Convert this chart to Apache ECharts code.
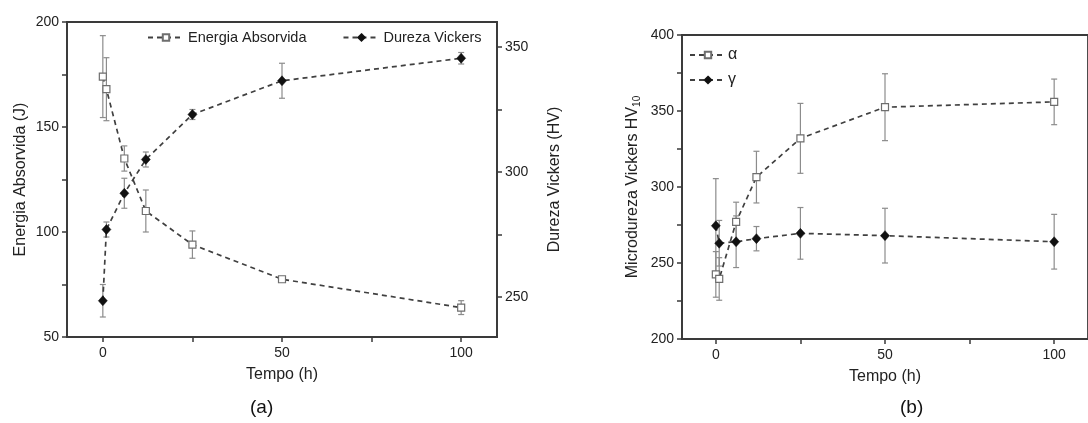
<!DOCTYPE html>
<html>
<head>
<meta charset="utf-8">
<script src="https://cdn.jsdelivr.net/npm/echarts@6/dist/echarts.min.js"></script>
<style>
    html, body { margin: 0; padding: 0; background: #fff; }
    #chart { width: 1088px; height: 423px; }
</style>
</head>
<body>
<div id="chart"></div>
<script>
// tempo de tratamento (h)
const hours = [0, 1, 6, 12, 25, 50, 100]

// painel (a)
const energia = [174, 168, 135, 110, 94, 77.5, 64]
const energiaErr = [19.5, 15, 6, 10, 6.5, 1, 3.3]
const dureza = [248.5, 277, 291.5, 305, 323, 336.5, 345.5]
const durezaErr = [6.5, 3, 6, 3, 2, 7, 2.3]

// painel (b)
const alfa = [242.5, 239.5, 277, 306.5, 332, 352.5, 356]
const alfaErr = [15, 14, 13, 17, 23, 22, 15]
const gama = [274.5, 263, 264, 266, 269.5, 268, 264]
const gamaErr = [31, 15, 17, 8, 17, 18, 18]

// ticks
const xTicks = [0, 25, 50, 75, 100]
const xLabels = [0, 50, 100]
const durezaTicks = [250, 275, 300, 325, 350]
const durezaLabels = [250, 300, 350]

const FONT = "'Liberation Sans', Arial, sans-serif"
const AXIS_COLOR = '#3a3a3a'
const TEXT_COLOR = '#222'
const LINE_COLOR = '#404040'
const ERR_COLOR = '#8c8c8c'

const chart = echarts.init(document.getElementById('chart'))

const pairs = (vals) => hours.map((h, i) => [h, vals[i]])
const errData = (vals, errs) => hours.map((h, i) => [h, vals[i] - errs[i], vals[i] + errs[i]])

function renderErr(params, api) {
    const x = api.value(0)
    const top = api.coord([x, api.value(2)])
    const bot = api.coord([x, api.value(1)])
    const w = 3
    const style = { stroke: ERR_COLOR, lineWidth: 1.2 }
    return {
        type: 'group',
        children: [
            { type: 'line', shape: { x1: top[0], y1: top[1], x2: bot[0], y2: bot[1] }, style },
            { type: 'line', shape: { x1: top[0] - w, y1: top[1], x2: top[0] + w, y2: top[1] }, style },
            { type: 'line', shape: { x1: bot[0] - w, y1: bot[1], x2: bot[0] + w, y2: bot[1] }, style },
        ],
    }
}

function errSeries(vals, errs, xi, yi) {
    return {
        type: 'custom',
        xAxisIndex: xi,
        yAxisIndex: yi,
        renderItem: renderErr,
        encode: { x: 0, y: [1, 2] },
        data: errData(vals, errs),
        z: 1,
        silent: true,
    }
}

const hollow = {
    symbol: 'rect',
    symbolSize: 7,
    itemStyle: { color: '#fff', borderColor: '#6e6e6e', borderWidth: 1.2 },
}
const filled = {
    symbol: 'diamond',
    symbolSize: [9, 10],
    itemStyle: { color: '#111', borderColor: '#111', borderWidth: 0.5 },
}
const dashed = { color: LINE_COLOR, width: 1.7, type: [5, 4] }

function xAxisCfg(grid) {
    return {
        type: 'value',
        gridIndex: grid,
        min: -10,
        max: 110,
        name: 'Tempo (h)',
        nameLocation: 'middle',
        nameGap: 30,
        nameTextStyle: { fontFamily: FONT, fontSize: 16, color: TEXT_COLOR },
        axisLine: { onZero: false, lineStyle: { color: AXIS_COLOR, width: 1.8 } },
        axisTick: { customValues: xTicks, length: 5, lineStyle: { color: AXIS_COLOR, width: 1.5 } },
        axisLabel: { customValues: xLabels, margin: 9, fontFamily: FONT, fontSize: 14, color: TEXT_COLOR },
        splitLine: { show: false },
    }
}

const yLine = { show: true, onZero: false, lineStyle: { color: AXIS_COLOR, width: 1.8 } }

const option = {
    animation: false,
    backgroundColor: '#fff',
    textStyle: { fontFamily: FONT },
    grid: [
        { left: 67, right: 591, top: 22, bottom: 86, show: true, borderColor: AXIS_COLOR, borderWidth: 1.8 },
        { left: 682, right: -9, top: 35, bottom: 84, show: true, borderColor: AXIS_COLOR, borderWidth: 1.8 },
    ],
    legend: [
        {
            data: ['Energia Absorvida', 'Dureza Vickers'],
            left: 142,
            top: 25,
            itemWidth: 36,
            itemHeight: 8,
            itemGap: 36,
            textStyle: { fontFamily: FONT, fontSize: 14.5, color: TEXT_COLOR, padding: [0, 0, 0, -1] },
        },
        {
            data: ['α', 'γ'],
            orient: 'vertical',
            left: 684,
            top: 42,
            itemWidth: 36,
            itemHeight: 8,
            itemGap: 9,
            textStyle: { fontFamily: FONT, fontSize: 16, color: TEXT_COLOR, padding: [0, 0, 0, -3] },
        },
    ],
    xAxis: [xAxisCfg(0), xAxisCfg(1)],
    yAxis: [
        {
            type: 'value',
            gridIndex: 0,
            min: 50,
            max: 200,
            interval: 25,
            name: 'Energia Absorvida (J)',
            nameLocation: 'middle',
            nameGap: 38,
            nameTextStyle: { fontFamily: FONT, fontSize: 16, color: TEXT_COLOR },
            axisLine: yLine,
            axisTick: { length: 5, lineStyle: { color: AXIS_COLOR, width: 1.5 } },
            axisLabel: {
                margin: 8,
                fontFamily: FONT,
                fontSize: 14,
                color: TEXT_COLOR,
                formatter: (v) => (v % 50 === 0 ? String(v) : ''),
            },
            splitLine: { show: false },
        },
        {
            type: 'value',
            gridIndex: 0,
            position: 'right',
            min: 234,
            max: 360,
            name: 'Dureza Vickers (HV)',
            nameLocation: 'middle',
            nameGap: 50,
            nameRotate: 90,
            nameTextStyle: { fontFamily: FONT, fontSize: 16, color: TEXT_COLOR },
            axisLine: yLine,
            axisTick: { customValues: durezaTicks, length: 5, lineStyle: { color: AXIS_COLOR, width: 1.5 } },
            axisLabel: { customValues: durezaLabels, margin: 8, fontFamily: FONT, fontSize: 14, color: TEXT_COLOR },
            splitLine: { show: false },
        },
        {
            type: 'value',
            gridIndex: 1,
            min: 200,
            max: 400,
            interval: 25,
            name: 'Microdureza Vickers HV{sub|10}',
            nameLocation: 'middle',
            nameGap: 40,
            nameTextStyle: {
                fontFamily: FONT,
                fontSize: 16,
                color: TEXT_COLOR,
                rich: { sub: { fontFamily: FONT, fontSize: 10, color: TEXT_COLOR, verticalAlign: 'bottom', padding: [8, 0, 0, 0] } },
            },
            axisLine: yLine,
            axisTick: { length: 5, lineStyle: { color: AXIS_COLOR, width: 1.5 } },
            axisLabel: {
                margin: 8,
                fontFamily: FONT,
                fontSize: 14,
                color: TEXT_COLOR,
                formatter: (v) => (v % 50 === 0 ? String(v) : ''),
            },
            splitLine: { show: false },
        },
    ],
    graphic: [
        { type: 'text', left: 250, top: 398, style: { text: '(a)', font: '19px ' + FONT, fill: '#111' } },
        { type: 'text', left: 900, top: 398, style: { text: '(b)', font: '19px ' + FONT, fill: '#111' } },
    ],
    series: [
        errSeries(energia, energiaErr, 0, 0),
        errSeries(dureza, durezaErr, 0, 1),
        errSeries(alfa, alfaErr, 1, 2),
        errSeries(gama, gamaErr, 1, 2),
        {
            name: 'Energia Absorvida',
            type: 'line',
            xAxisIndex: 0,
            yAxisIndex: 0,
            data: pairs(energia),
            lineStyle: dashed,
            ...hollow,
            z: 3,
        },
        {
            name: 'Dureza Vickers',
            type: 'line',
            xAxisIndex: 0,
            yAxisIndex: 1,
            data: pairs(dureza),
            lineStyle: dashed,
            ...filled,
            z: 3,
        },
        {
            name: 'α',
            type: 'line',
            xAxisIndex: 1,
            yAxisIndex: 2,
            data: pairs(alfa),
            lineStyle: dashed,
            ...hollow,
            z: 3,
        },
        {
            name: 'γ',
            type: 'line',
            xAxisIndex: 1,
            yAxisIndex: 2,
            data: pairs(gama),
            lineStyle: dashed,
            ...filled,
            z: 3,
        },
    ],
}

chart.setOption(option)
</script>
</body>
</html>
